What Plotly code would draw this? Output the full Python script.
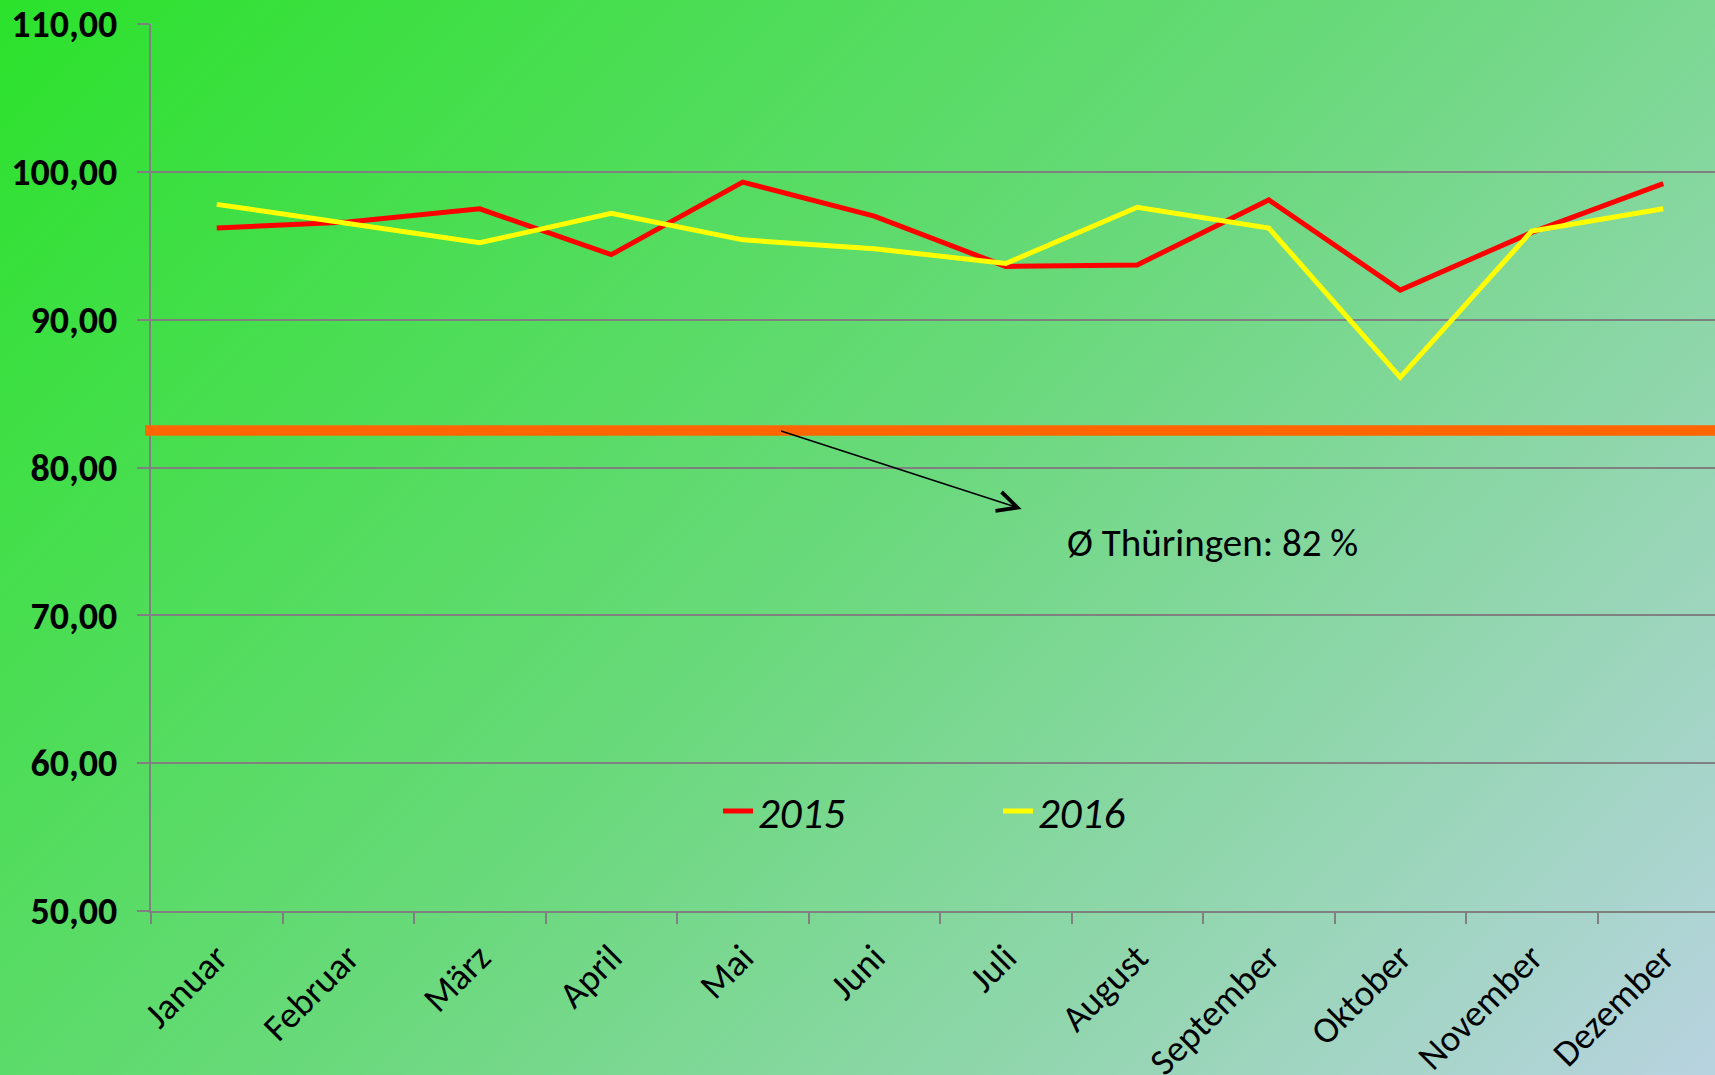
import base64
import plotly.graph_objects as go

# ---------------- data ----------------
months = ["Januar", "Februar", "März", "April", "Mai", "Juni", "Juli",
          "August", "September", "Oktober", "November", "Dezember"]
v2015 = [96.2, 96.6, 97.5, 94.4, 99.3, 97.0, 93.6, 93.7, 98.1, 92.0, 95.9, 99.2]
v2016 = [97.8, 96.5, 95.2, 97.2, 95.4, 94.8, 93.8, 97.6, 96.2, 86.1, 96.0, 97.5]
thueringen_avg = 82.5
avg_label = "Ø Thüringen: 82 %"
y_ticks = [50, 60, 70, 80, 90, 100, 110]

# ---------------- layout geometry ----------------
W, H = 1715, 1075
ML, MR, MT, MB = 151, 0, 24, 164
PW, PH = W - ML - MR, H - MT - MB

FONT = "Carlito, Calibri, Lato, sans-serif"

svg = f'''<svg xmlns="http://www.w3.org/2000/svg" width="{W}" height="{H}" viewBox="0 0 {W} {H}" preserveAspectRatio="none">
<defs><linearGradient id="g" gradientUnits="userSpaceOnUse" x1="0" y1="0" x2="{(W+H)/2}" y2="{(W+H)/2}">
<stop offset="0" stop-color="#2BE22B"/>
<stop offset="0.5" stop-color="#6AD97C"/>
<stop offset="1" stop-color="#B8D3E0"/>
</linearGradient></defs>
<rect x="0" y="0" width="{W}" height="{H}" fill="url(#g)"/></svg>'''
bg_src = "data:image/svg+xml;base64," + base64.b64encode(svg.encode()).decode()

fig = go.Figure()
fig.add_trace(go.Scatter(x=months, y=v2015, mode="lines", name="2015",
                         line=dict(color="#FF0000", width=5)))
fig.add_trace(go.Scatter(x=months, y=v2016, mode="lines", name="2016",
                         line=dict(color="#FFFF00", width=5)))

# average line
fig.add_shape(type="line", xref="paper", yref="y",
              x0=-6 / PW, x1=1, y0=thueringen_avg, y1=thueringen_avg,
              line=dict(color="#FF6600", width=10.5), layer="above")

# arrow
fig.add_annotation(x=6.12, y=77.2, ax=4.28, ay=thueringen_avg,
                   xref="x", yref="y", axref="x", ayref="y",
                   text="", showarrow=True, arrowhead=5, arrowsize=2.6,
                   arrowwidth=1.5, arrowcolor="black")
fig.add_annotation(x=7.57, y=74.93, xref="x", yref="y", text=avg_label,
                   showarrow=False, xanchor="center", yanchor="middle",
                   font=dict(family=FONT, size=39, color="black"))

fig.update_layout(
    width=W, height=H, autosize=False,
    margin=dict(l=ML, r=MR, t=MT, b=MB, pad=0, autoexpand=False),
    paper_bgcolor="rgba(0,0,0,0)", plot_bgcolor="rgba(0,0,0,0)",
    separators=",.",
    images=[dict(source=bg_src, xref="paper", yref="paper",
                 x=-ML / PW, y=1 + MT / PH, sizex=W / PW, sizey=H / PH,
                 xanchor="left", yanchor="top", sizing="stretch", layer="below")],
    showlegend=True,
    legend=dict(orientation="h", x=(718 - ML) / PW, y=(H - MB - 811) / PH,
                xanchor="left", yanchor="middle", bgcolor="rgba(0,0,0,0)",
                font=dict(family=FONT, size=43, color="black", style="italic"),
                entrywidth=235, entrywidthmode="pixels", traceorder="normal"),
    font=dict(family=FONT, color="black"),
)

fig.update_xaxes(type="category", categoryarray=months, categoryorder="array",
                 range=[-0.5, -0.5 + PW / 131.5], automargin=False,
                 tickson="boundaries", ticks="outside", ticklen=11, tickwidth=1.5,
                 tickcolor="#808080", showline=True, linecolor="#808080", linewidth=2,
                 showgrid=False, zeroline=False, tickangle=-45,
                 tickfont=dict(family=FONT, size=37, color="black"),
                 ticklabelstandoff=8)
fig.update_yaxes(range=[50, 110], tickvals=y_ticks, tickformat=".2f",
                 automargin=False,
                 showgrid=True, gridcolor="#808080", gridwidth=2,
                 showline=True, linecolor="#808080", linewidth=2,
                 ticks="outside", ticklen=12, tickwidth=2, tickcolor="#808080",
                 zeroline=False,
                 tickfont=dict(family=FONT, size=38, color="black", weight="bold"),
                 ticklabelstandoff=12)

fig.write_html(
    "out.html",
    config={"displayModeBar": False},
    post_script="document.body.style.margin='0';document.body.style.padding='0';"
                "document.body.style.overflow='hidden';",
)
